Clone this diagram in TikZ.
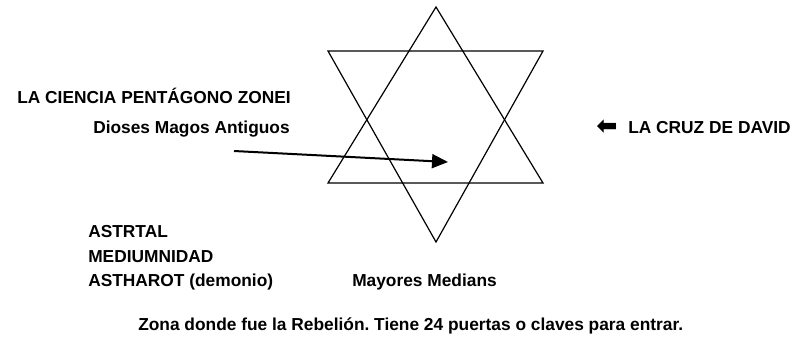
\documentclass[tikz,border=0pt]{standalone}
\usepackage{fontspec}
\setmainfont{Liberation Sans}
\newfontfamily\symfont{DejaVu Sans}
\usepackage{tikz}
\usetikzlibrary{arrows.meta, positioning}
\frenchspacing

\begin{document}
\begin{tikzpicture}[
    x=0.75pt, y=-0.75pt,
    label/.style={anchor=base west, inner sep=0pt, font=\fontsize{13}{15.6}\selectfont\bfseries},
    starline/.style={line width=0.9pt, line join=miter},
    arrow/.style={-{Triangle[length=12pt, width=10.5pt]}, line width=1.5pt},
]
    \useasboundingbox (0,0) rectangle (802,337);

    % Star
    \coordinate (uptop) at (436,7);
    \coordinate (upleft) at (328,183);
    \coordinate (upright) at (543,183);
    \coordinate (downbot) at (436,242);
    \coordinate (downleft) at (328,51);
    \coordinate (downright) at (543,51);
    \draw[starline] (uptop) -- (upright) -- (upleft) -- cycle;
    \draw[starline] (downleft) -- (downright) -- (downbot) -- cycle;

    % Labels
    \node[label] (ciencia) at (17,103) {LA CIENCIA PENT\'AGONO ZONEI};
    \node[label] (dioses) at (93,133) {Dioses Magos Antiguos};
    \node[inner sep=0pt, font=\fontsize{19}{19}\selectfont\symfont\bfseries] (cruzarrow) at (607,127) {⬅};
    \node[label] (cruz) at (628,133) {LA CRUZ DE DAVID};
    \node[label] (astrtal) at (88,237) {ASTRTAL};
    \node[label] (medium) at (88,262) {MEDIUMNIDAD};
    \node[label] (astharot) at (88,286) {ASTHAROT (demonio)};
    \node[label] (mayores) at (352,286) {Mayores Medians};
    \node[label] (zona) at (138,330) {Zona donde fue la Rebeli\'on. Tiene 24 puertas o claves para entrar.};

    % Arrows
    \coordinate (arrowstart) at (234,151);
    \coordinate (arrowend) at (448,162);
    \draw[arrow] (arrowstart) -- (arrowend);

\end{tikzpicture}
\end{document}
